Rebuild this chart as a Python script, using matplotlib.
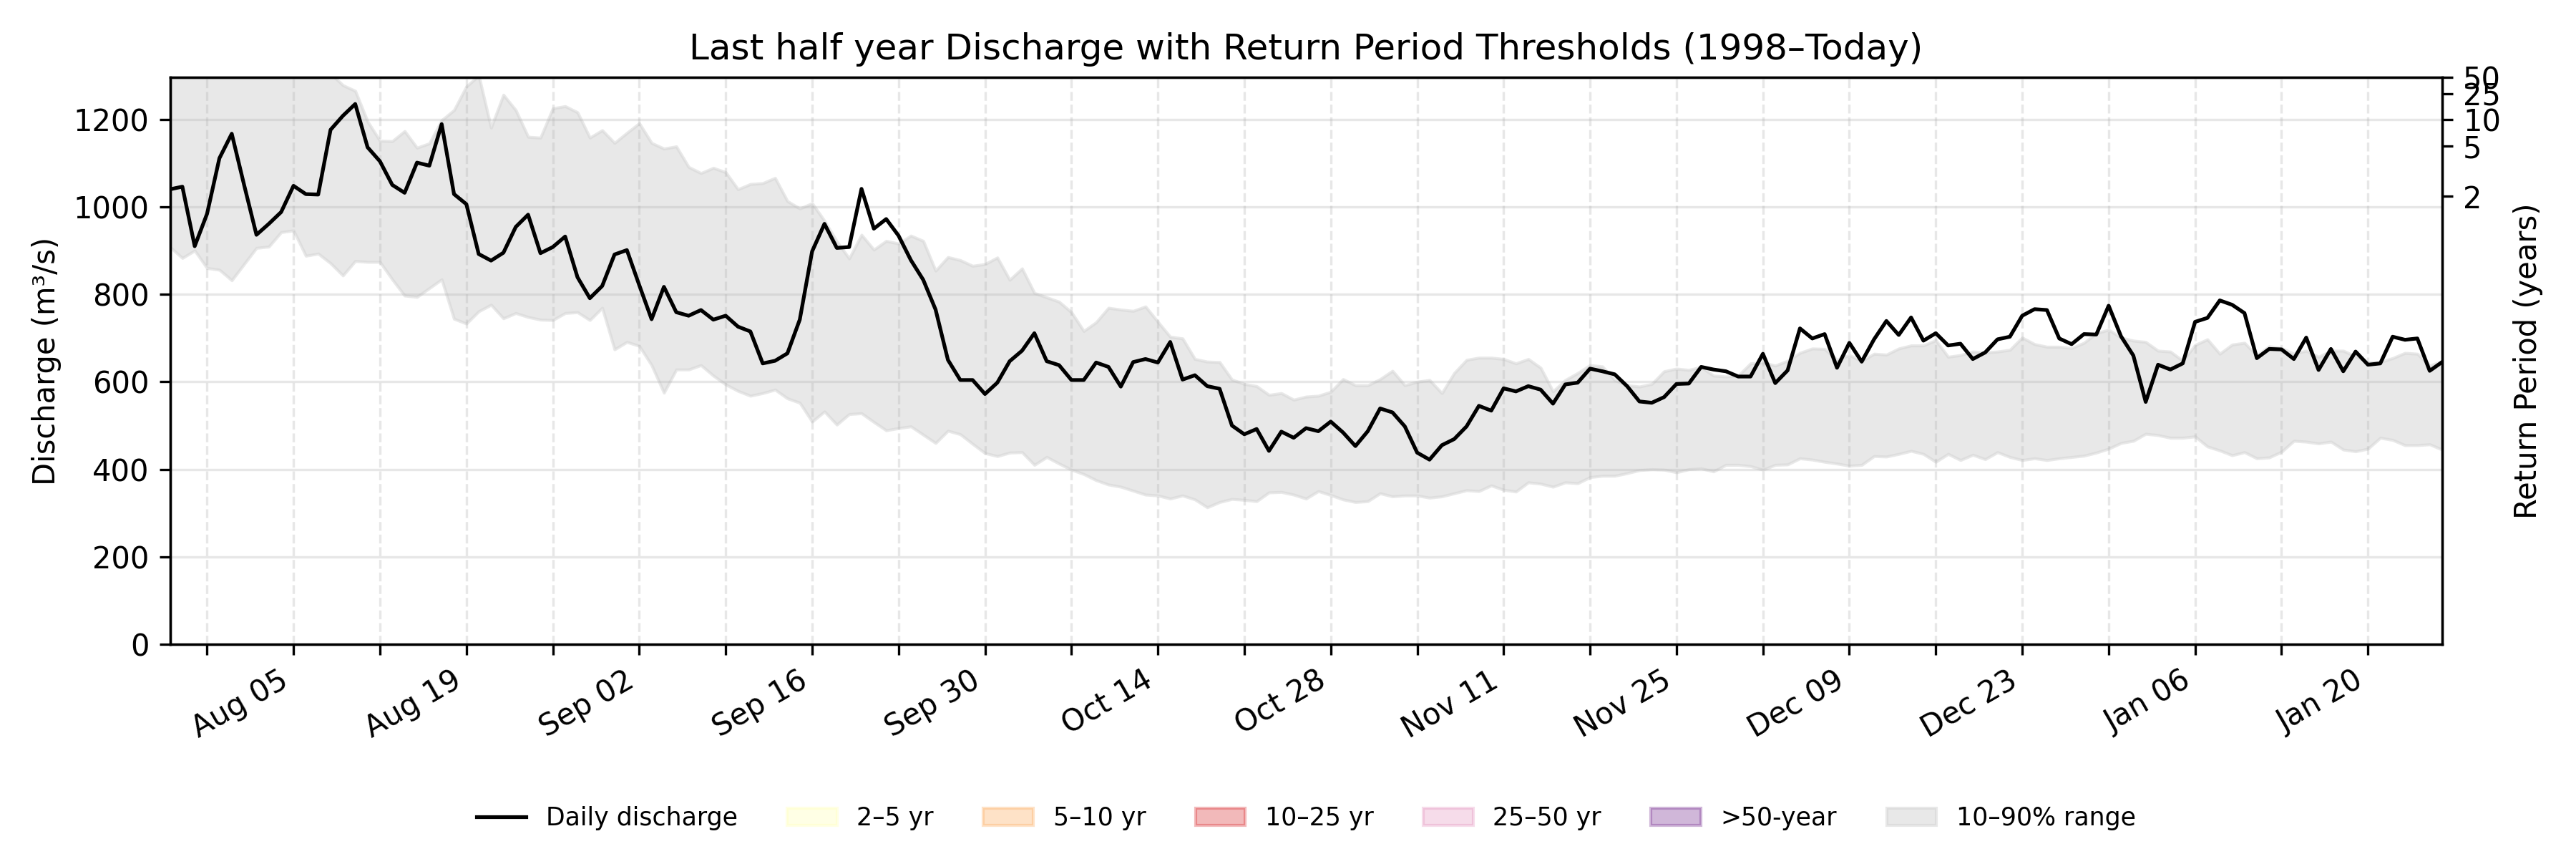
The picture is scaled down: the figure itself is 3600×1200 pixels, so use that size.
import numpy as np
import pandas as pd
import matplotlib
matplotlib.use("Agg")
import matplotlib.pyplot as plt
from matplotlib.lines import Line2D
from matplotlib.patches import Patch

# daily values, 2024-07-26 .. 2025-01-26
start_date = "2024-07-26"

discharge = [
    1040, 1046, 910, 984, 1111, 1167,
    1050, 936, 961, 988, 1048, 1029, 1028, 1176, 1208, 1235, 1136, 1104, 1050, 1032, 1101, 1094,
    1189, 1029, 1006, 892, 877, 895, 954, 982, 894, 908, 932, 839, 791, 819, 891,
    901, 821, 743, 817, 759, 751, 764, 742, 751, 726, 715, 642, 648, 665, 742, 898, 961, 906,
    908, 1041, 950, 972, 934, 878, 833, 765, 650, 604, 604, 572,
    598, 647, 671, 711, 647, 638, 604, 604, 644, 634, 589, 645, 652, 644, 691, 605, 615, 590,
    584, 500, 480, 492, 442, 486, 472, 494, 487, 509, 484, 453, 487,
    539, 530, 498, 438, 422, 455, 469, 498, 545, 534, 585, 578, 590, 582, 550, 594, 598, 630,
    624, 617, 590, 555, 552, 565, 595, 596, 634, 628, 624, 612,
    612, 664, 597, 626, 722, 699, 709, 632, 689, 646, 697, 739, 707, 747, 694, 711, 683, 687,
    652, 667, 697, 703, 751, 766, 764, 699, 686, 709, 708, 774, 704,
    660, 554, 639, 628, 642, 737, 746, 786, 776, 757, 654, 675, 674, 652, 701, 627, 675, 624,
    669, 639, 642, 703, 696, 699, 625, 645,
]

q90 = [
    1340, 1360, 1330, 1350, 1380, 1400,
    1390, 1370, 1350, 1360, 1340, 1330, 1320, 1305, 1278, 1265, 1195, 1151, 1150, 1173, 1135,
    1145, 1198, 1221, 1275, 1300, 1181, 1256, 1221, 1160, 1158, 1225, 1230, 1216, 1158, 1175,
    1146,
    1169, 1191, 1146, 1133, 1138, 1091, 1077, 1089, 1079, 1040, 1052, 1054, 1066, 1013, 996,
    1008, 968, 921, 882, 936, 902, 922, 916, 934, 922, 854, 885, 878, 865, 869,
    884, 833, 859, 803, 793, 783, 759, 716, 736, 769, 765, 762, 772, 737, 703, 699, 652, 646,
    645, 605, 595, 590, 570, 574, 559, 566, 568, 577, 606, 592, 592,
    606, 625, 592, 600, 604, 574, 620, 650, 655, 655, 652, 642, 652, 632, 578, 604, 620, 638,
    635, 604, 592, 589, 595, 624, 630, 627, 634, 614, 612, 614,
    642, 644, 637, 648, 666, 676, 675, 650, 661, 647, 664, 662, 676, 683, 683, 695, 657, 661,
    669, 667, 669, 673, 701, 686, 680, 680, 677, 689, 711, 719, 701,
    694, 691, 671, 669, 648, 684, 697, 664, 685, 689, 660, 681, 677, 664, 671, 657, 671, 671,
    658, 645, 645, 654, 666, 664, 637, 647,
]

q10 = [
    908, 883, 900, 860, 856, 832,
    869, 906, 909, 942, 946, 888, 893, 871, 843, 876, 874, 874, 834, 797, 794, 814, 834, 744,
    733, 761, 776, 745, 757, 748, 742, 741, 757, 759, 741, 769, 674,
    691, 682, 638, 575, 628, 628, 638, 614, 594, 579, 568, 574, 582, 562, 552, 509, 532, 502,
    526, 528, 508, 489, 494, 498, 479, 460, 488, 480, 458, 437,
    430, 438, 439, 410, 428, 413, 399, 389, 375, 365, 360, 351, 342, 340, 333, 340, 331, 313,
    325, 332, 330, 327, 347, 348, 342, 333, 350, 341, 331, 325, 327,
    345, 338, 340, 340, 335, 338, 345, 352, 350, 363, 353, 349, 370, 367, 360, 370, 368, 382,
    385, 385, 391, 398, 400, 399, 393, 400, 402, 395, 410, 410,
    407, 399, 410, 411, 425, 422, 417, 413, 408, 410, 430, 429, 435, 442, 435, 417, 435, 421,
    433, 423, 439, 428, 421, 425, 421, 425, 428, 431, 438, 447, 460,
    465, 481, 478, 472, 472, 475, 452, 443, 432, 439, 425, 427, 440, 465, 463, 459, 463, 445,
    441, 447, 472, 467, 455, 455, 457, 445,
]

# return period thresholds (m3/s)
rp_years = [2, 5, 10, 25, 50]
rp_values = [1024, 1139, 1199, 1258, 1296]

band_labels = ["2–5 yr", "5–10 yr", "10–25 yr", "25–50 yr", ">50-year"]
band_colors = ["#ffffbf", "#fdae61", "#d7191c", "#de77ae", "#7b3294"]
band_alpha = [0.4, 0.35, 0.3, 0.25, 0.35]

dates = pd.date_range(start_date, periods=len(discharge), freq="D")

fig, ax = plt.subplots(figsize=(12, 4), dpi=300)
fig.subplots_adjust(left=0.066, right=0.948, top=0.91, bottom=0.25)

ax.fill_between(dates, q10, q90, color="lightgrey", alpha=0.5, label="10–90% range")
ax.plot(dates, discharge, color="black", lw=1.25, label="Daily discharge")

ax.set_xlim(dates[0], dates[-1])
ax.set_ylim(0, rp_values[-1])
ax.set_ylabel("Discharge (m³/s)")
ax.set_title("Last half year Discharge with Return Period Thresholds (1998–Today)")

# weekly ticks, label every second one
ticks = pd.date_range("2024-07-29", dates[-1], freq="7D")
ax.set_xticks(ticks)
ax.set_xticklabels([d.strftime("%b %d") if i % 2 else "" for i, d in enumerate(ticks)])
plt.setp(ax.get_xticklabels(), rotation=30, ha="right")

ax.grid(axis="y", alpha=0.3)
ax.grid(axis="x", linestyle="--", alpha=0.3)

ax2 = ax.twinx()
ax2.set_ylim(ax.get_ylim())
ax2.set_yticks(rp_values)
ax2.set_yticklabels([str(y) for y in rp_years])
ax2.set_ylabel("Return Period (years)")

handles = [Line2D([0], [0], color="black", lw=1.25, label="Daily discharge")]
for lab, c, a in zip(band_labels, band_colors, band_alpha):
    handles.append(Patch(facecolor=c, edgecolor=c, alpha=a, label=lab))
handles.append(Patch(facecolor="lightgrey", edgecolor="lightgrey", alpha=0.5, label="10–90% range"))

fig.legend(handles=handles, loc="center", ncol=7, frameon=False, fontsize="small",
           bbox_to_anchor=(0.507, 0.0475))

fig.savefig("out.png", dpi=300)
